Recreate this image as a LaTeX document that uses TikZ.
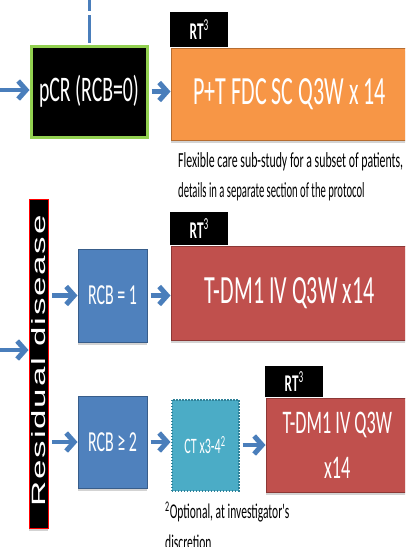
\documentclass[tikz,border=0pt]{standalone}
\usepackage{fontspec}
\usetikzlibrary{arrows.meta,shadows}
\newfontfamily\cf{Carlito}[FakeStretch=0.55]
\newfontfamily\rf{Liberation Sans}[LetterSpace=5]
\definecolor{orangefill}{HTML}{F79646}
\definecolor{orangeline}{HTML}{B66D31}
\definecolor{redfill}{HTML}{C0504D}
\definecolor{redline}{HTML}{8C3836}
\definecolor{bluefill}{HTML}{4F81BD}
\definecolor{blueline}{HTML}{385D8A}
\definecolor{tealfill}{HTML}{4BACC6}
\definecolor{tealline}{HTML}{2F8198}
\definecolor{arrowblue}{HTML}{4A7EBB}
\definecolor{pcrgreen}{HTML}{92D050}
\tikzset{
  box/.style={anchor=north west, inner sep=0pt, text=white, align=center},
  shade box/.style={drop shadow={opacity=0.35, shadow xshift=0pt, shadow yshift=-3pt}},
  tab/.style={box, fill=black, font=\cf\bfseries\fontsize{24}{24}\selectfont},
  flow/.style={draw=arrowblue, line width=4.5pt, shorten <=3pt,
    -{Straight Barb[length=8pt, width=18pt, line width=5pt]}},
}
\newcommand\rtlabel{RT\textsuperscript{\mdseries 3}}
\begin{document}
\begin{tikzpicture}[x=1pt, y=-1pt]
\clip (0,0) rectangle (405,547);

% left column: response
\node[box, fill=black, draw=pcrgreen, line width=3pt,
  minimum width=116pt, minimum height=91pt,
  font=\cf\fontsize{36}{36}\selectfont] (pcr) at (29.5,44.5) {pCR (RCB=0)};

\node[box, fill=black, draw=red, line width=1.5pt, shade box,
  minimum width=19pt, minimum height=329pt] (resid) at (28.5,198.5) {};
\node[rotate=90, text=white, inner sep=0pt,
  font=\rf\fontsize{35}{35}\selectfont] (residtext) at ([yshift=3pt]resid.center)
  {\scalebox{1}[0.55]{Residual disease}};

\node[box, fill=bluefill, draw=blueline, line width=1pt, shade box,
  minimum width=69pt, minimum height=93pt,
  font=\cf\fontsize{29}{29}\selectfont] (rcba) at (77.5,248.5) {RCB = 1};
\node[box, fill=bluefill, draw=blueline, line width=1pt, shade box,
  minimum width=69pt, minimum height=92pt,
  font=\cf\fontsize{29}{29}\selectfont] (rcbb) at (77.5,395.5) {RCB ≥ 2};

% treatment boxes
\node[box, fill=orangefill, draw=orangeline, line width=1.5pt, shade box,
  minimum width=237pt, minimum height=92pt,
  font=\cf\fontsize{40}{40}\selectfont] (pt) at (170.5,47.5) {P+T FDC SC Q3W x 14};
\node[tab, minimum width=58pt, minimum height=35pt] (rta) at (170,12) {\rtlabel};

\node[anchor=west, inner sep=0pt, align=left,
  font=\cf\fontsize{21.5}{30}\selectfont] (flex) at (178,177)
  {Flexible care sub-study for a subset of patients,\\
   \scalebox{0.9}[1]{details in a separate section of the protocol}};

\node[box, fill=redfill, draw=redline, line width=1.5pt, shade box,
  minimum width=237pt, minimum height=94pt,
  font=\cf\fontsize{40}{40}\selectfont] (tdma) at (170.5,245.5) {T-DM1 IV Q3W x14};
\node[tab, minimum width=58pt, minimum height=33pt] (rtb) at (170,212) {\rtlabel};

\node[box, fill=tealfill, draw=tealline, line width=2pt,
  dash pattern=on 1.5pt off 1.5pt,
  minimum width=67pt, minimum height=91pt,
  font=\cf\fontsize{22}{22}\selectfont] (ct) at (170.5,398.5) {CT x3-4\textsuperscript{2}};

\node[box, fill=redfill, draw=redline, line width=1.5pt, shade box,
  minimum width=142pt, minimum height=94pt,
  font=\cf\fontsize{33}{45}\selectfont] (tdmb) at (265.5,397.5) {T-DM1 IV Q3W\\x14};
\node[tab, minimum width=58pt, minimum height=31pt] (rtc) at (265,366) {\rtlabel};

\node[anchor=west, inner sep=0pt, align=left,
  font=\cf\fontsize{21}{31}\selectfont] (note) at (165,526)
  {\textsuperscript{2}Optional, at investigator's\\discretion};

% connectors
\coordinate (top) at (pcr.north |- 0,0);
\coordinate (ina) at (0,90);
\coordinate (inb) at (0,350);
\draw[arrowblue, line width=3pt, dash pattern=on 28pt off 4.5pt, dash phase=17.3pt]
  (top) -- (pcr.north);
\draw[flow, shorten <=0pt] (ina) -- (ina -| pcr.west);
\draw[flow, shorten <=0pt] (inb) -- (inb -| resid.west);
\draw[flow] (pcr.east) -- (pcr.east -| pt.west);
\draw[flow] (resid.east |- rcba.west) -- (rcba.west);
\draw[flow] (resid.east |- rcbb.west) -- (rcbb.west);
\draw[flow] (rcba.east) -- (rcba.east -| tdma.west);
\draw[flow] (rcbb.east) -- (rcbb.east -| ct.west);
\draw[flow] (ct.east) -- (ct.east -| tdmb.west);
\end{tikzpicture}
\end{document}
